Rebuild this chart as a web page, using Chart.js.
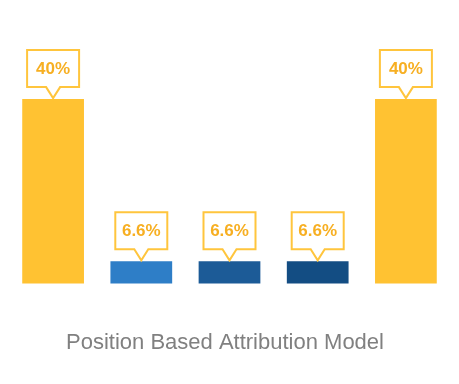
<!DOCTYPE html>
<html>
<head>
<meta charset="utf-8">
<script src="https://cdn.jsdelivr.net/npm/chart.js@4.4.0/dist/chart.umd.min.js"></script>
<style>
  html, body { margin: 0; padding: 0; background: #fff; }
  #wrap { width: 459px; height: 384px; }
</style>
</head>
<body>
<div id="wrap"><canvas id="myChart" width="459" height="384"></canvas></div>
<script>
// data
const labels = ["First touch", "Middle 1", "Middle 2", "Middle 3", "Last touch"];
const shares = [40, 6.6, 6.6, 6.6, 40];
const barColors = ["#FFC232", "#2E7EC7", "#1C5B97", "#134D83", "#FFC232"];

// callout boxes above each bar
const calloutPlugin = {
  id: 'callouts',
  afterDatasetsDraw(chart) {
    const ctx = chart.ctx;
    const meta = chart.getDatasetMeta(0);
    ctx.save();
    meta.data.forEach((bar, i) => {
      let cx = bar.x;
      let tip = bar.y - 1;
      let w = 52, h = 37, ph = 11, pw = 7;
      let bottom = tip - ph;
      let top = bottom - h;
      let left = cx - w / 2, right = cx + w / 2;

      ctx.beginPath();
      ctx.moveTo(left, top);
      ctx.lineTo(right, top);
      ctx.lineTo(right, bottom);
      ctx.lineTo(cx + pw, bottom);
      ctx.lineTo(cx, tip);
      ctx.lineTo(cx - pw, bottom);
      ctx.lineTo(left, bottom);
      ctx.closePath();
      ctx.fillStyle = "#fff";
      ctx.fill();
      ctx.lineWidth = 2;
      ctx.strokeStyle = "#FFC53D";
      ctx.stroke();

      ctx.fillStyle = "#F7AF22";
      ctx.font = "bold 17px 'Liberation Sans', Arial, sans-serif";
      ctx.textAlign = "center";
      ctx.textBaseline = "middle";
      ctx.fillText(shares[i] + "%", cx, top + h / 2 + 1);
    });
    ctx.restore();
  }
};

new Chart("myChart", {
  type: "bar",
  data: {
    labels: labels,
    datasets: [{
      data: shares,
      backgroundColor: barColors,
      borderWidth: 0,
      barPercentage: 0.7,
      categoryPercentage: 1
    }]
  },
  options: {
    responsive: false,
    animation: false,
    layout: { padding: { top: 2, left: 0, right: 9, bottom: 6 } },
    scales: {
      x: { display: false },
      y: {
        min: 2, max: 60,
        grid: { display: false },
        border: { display: false },
        ticks: { display: false },
        afterFit: (s) => { s.width = 9; } // invisible gutter on the left
      }
    },
    plugins: {
      legend: { display: false },
      tooltip: { enabled: false },
      title: {
        display: true,
        position: "bottom",
        text: "Position Based Attribution Model",
        color: "#808080",
        font: { family: "'Liberation Sans', Arial, sans-serif", size: 22, weight: "normal", lineHeight: 1.2 },
        padding: { top: 46, bottom: 22 }
      }
    }
  },
  plugins: [calloutPlugin]
});
</script>
</body>
</html>
